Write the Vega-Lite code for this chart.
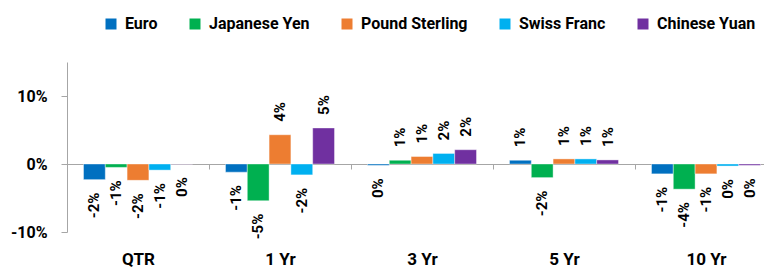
{
  "$schema": "https://vega.github.io/schema/vega-lite/v6.json",
  "width": 710,
  "height": 170,
  "autosize": {"type": "none"},
  "padding": {"left": 67, "top": 62, "right": -13, "bottom": 37},
  "background": "white",
  "config": {
    "locale": {"number": {"decimal": ".", "thousands": ",", "grouping": [3], "currency": ["$", ""], "minus": "-"}},
    "view": {"stroke": null},
    "font": "Roboto",
    "axis": {"labelFont": "Roboto", "labelFontWeight": "bold", "labelColor": "black", "grid": false},
    "legend": {"labelFont": "Roboto", "labelFontWeight": "bold", "labelColor": "black"}
  },
  "data": {
    "values": [
      {"period": "QTR", "currency": "Euro", "v": -0.023},
      {"period": "QTR", "currency": "Japanese Yen", "v": -0.005},
      {"period": "QTR", "currency": "Pound Sterling", "v": -0.024},
      {"period": "QTR", "currency": "Swiss Franc", "v": -0.009},
      {"period": "QTR", "currency": "Chinese Yuan", "v": -0.0003},
      {"period": "1 Yr", "currency": "Euro", "v": -0.012},
      {"period": "1 Yr", "currency": "Japanese Yen", "v": -0.054},
      {"period": "1 Yr", "currency": "Pound Sterling", "v": 0.043},
      {"period": "1 Yr", "currency": "Swiss Franc", "v": -0.016},
      {"period": "1 Yr", "currency": "Chinese Yuan", "v": 0.053},
      {"period": "3 Yr", "currency": "Euro", "v": -0.002},
      {"period": "3 Yr", "currency": "Japanese Yen", "v": 0.0055},
      {"period": "3 Yr", "currency": "Pound Sterling", "v": 0.011},
      {"period": "3 Yr", "currency": "Swiss Franc", "v": 0.0155},
      {"period": "3 Yr", "currency": "Chinese Yuan", "v": 0.021},
      {"period": "5 Yr", "currency": "Euro", "v": 0.0055},
      {"period": "5 Yr", "currency": "Japanese Yen", "v": -0.02},
      {"period": "5 Yr", "currency": "Pound Sterling", "v": 0.0075},
      {"period": "5 Yr", "currency": "Swiss Franc", "v": 0.0075},
      {"period": "5 Yr", "currency": "Chinese Yuan", "v": 0.006},
      {"period": "10 Yr", "currency": "Euro", "v": -0.0145},
      {"period": "10 Yr", "currency": "Japanese Yen", "v": -0.037},
      {"period": "10 Yr", "currency": "Pound Sterling", "v": -0.0145},
      {"period": "10 Yr", "currency": "Swiss Franc", "v": -0.003},
      {"period": "10 Yr", "currency": "Chinese Yuan", "v": -0.002}
    ]
  },
  "encoding": {
    "x": {
      "field": "period", "type": "nominal", "sort": ["QTR", "1 Yr", "3 Yr", "5 Yr", "10 Yr"],
      "scale": {"paddingInner": 0, "paddingOuter": 0},
      "axis": {
        "title": null, "labelAngle": 0, "offset": -68, "tickBand": "extent", "tickSize": 5,
        "tickColor": "#a6a6a6", "domainColor": "#a6a6a6", "labelFontSize": 17, "labelPadding": 82
      }
    },
    "xOffset": {
      "field": "currency", "type": "nominal",
      "sort": ["Euro", "Japanese Yen", "Pound Sterling", "Swiss Franc", "Chinese Yuan"],
      "scale": {"paddingInner": 0, "paddingOuter": 0.757}
    },
    "y": {
      "field": "v", "type": "quantitative",
      "scale": {"domain": [-0.1, 0.15], "nice": false, "zero": false},
      "axis": {
        "title": null, "values": [-0.1, 0, 0.1], "format": ".0%", "tickSize": 6,
        "tickColor": "#a6a6a6", "domainColor": "#a6a6a6", "labelFontSize": 16, "labelPadding": 14
      }
    }
  },
  "layer": [
    {
      "mark": {"type": "bar", "stroke": "white", "strokeWidth": 0.8, "strokeOpacity": 0.5},
      "encoding": {
        "color": {
          "field": "currency", "type": "nominal",
          "sort": ["Euro", "Japanese Yen", "Pound Sterling", "Swiss Franc", "Chinese Yuan"],
          "scale": {
            "domain": ["Euro", "Japanese Yen", "Pound Sterling", "Swiss Franc", "Chinese Yuan"],
            "range": ["#0070C0", "#00B050", "#ED7D31", "#00B0F0", "#7030A0"]
          },
          "legend": {
            "title": null, "orient": "none", "direction": "horizontal", "columns": 5,
            "legendX": 36, "legendY": -46, "padding": 0,
            "symbolType": "square", "symbolSize": 121, "symbolStrokeWidth": 0,
            "labelFontSize": 16, "labelOffset": 6, "columnPadding": 29
          }
        }
      }
    },
    {
      "transform": [{"filter": "datum.v >= 0"}],
      "mark": {"type": "text", "angle": 270, "align": "left", "baseline": "middle", "dx": 13, "fontSize": 15, "fontWeight": "bold", "font": "Roboto", "color": "black"},
      "encoding": {"text": {"field": "v", "type": "quantitative", "format": ".0%"}}
    },
    {
      "transform": [{"filter": "datum.v < 0"}],
      "mark": {"type": "text", "angle": 270, "align": "right", "baseline": "middle", "dx": -13, "fontSize": 15, "fontWeight": "bold", "font": "Roboto", "color": "black"},
      "encoding": {"text": {"field": "v", "type": "quantitative", "format": ".0%"}}
    }
  ]
}
